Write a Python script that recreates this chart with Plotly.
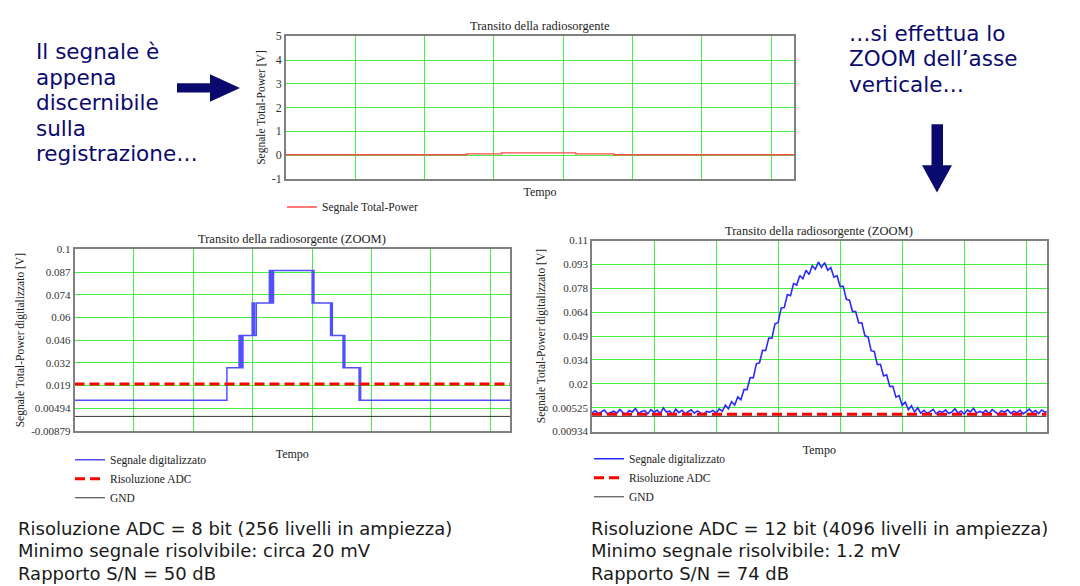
import plotly.graph_objects as go

W, H = 1080, 586


def px(x):
    return x / W


def py(y):
    return 1 - y / H


# ---------------- data ----------------
# top chart: raw total-power record (V) versus time (grid units)
top_x = [0, 2.61, 3.11, 4.18, 4.73, 7.33]
top_y = [0.01, 0.05, 0.09, 0.05, 0.01, 0.01]
top_ticks = [-1, 0, 1, 2, 3, 4, 5]
top_tick_text = ["-1", "0", "1", "2", "3", "4", "5"]

# bottom-left: 8-bit digitised signal (quantisation levels, V)
adc8_levels = [0.0098, 0.0294, 0.0490, 0.0686, 0.0882]
bl_x = [0, 2.565, 2.77, 2.785, 2.80, 2.815, 2.835, 2.99, 3.00, 3.015, 3.03, 3.06,
        3.28, 3.29, 3.31, 3.33, 3.35, 4.00, 4.015, 4.03, 4.31, 4.325, 4.34,
        4.52, 4.535, 4.55, 4.79, 4.80, 4.815, 7.33]
bl_level = [0, 1, 2, 1, 2, 1, 2, 3, 2, 3, 2, 3,
            4, 3, 4, 3, 4, 3, 4, 3, 2, 3, 2,
            1, 2, 1, 0, 1, 0, 0]
adc8_res = 0.0196
bl_tick_vals = [-0.00879, 0.00494, 0.01867, 0.0324, 0.04613, 0.05986, 0.07359, 0.08732, 0.10105]
bl_tick_text = ["-0.00879", "0.00494", "0.019", "0.032", "0.046", "0.06", "0.074", "0.087", "0.1"]

# bottom-right: 12-bit digitised signal (mV), one sample every 0.05 grid units
br_mv = [
    2.1, 3.4, 1.6, 2.8, 3.9, 1.4, 2.5, 3.1, 1.9, 4.2, 2.2, 1.3, 3.6, 2.7, 4.8, 1.8, 2.9, 3.5, 1.5, 4.1,
    2.4, 3.8, 1.7, 5.1, 2.6, 3.2, 1.2, 4.4, 2.3, 3.7, 1.6, 2.9, 4.0, 1.9, 3.3, 2.1, 1.4, 3.0, 2.5, 3.6,
    1.9, 4.6, 3.1, 6.8, 4.6, 8.9, 6.9, 11.9, 10.1, 16.4, 16.3, 23.7, 23.5, 32.1, 32.7, 40.3, 40.2, 47.8,
    47.7, 56.5, 57.2, 66.2, 66.5, 74.4, 73.7, 81.1, 80.2, 86.1, 84.0, 89.2, 86.7, 92.0, 89.8, 94.3,
    90.9, 93.9, 89.3, 90.8, 85.0, 85.9, 79.4, 79.5, 71.5, 71.0, 64.0, 64.0, 57.0, 57.1, 49.2, 48.5,
    40.1, 39.6, 31.6, 31.8, 24.7, 25.4, 18.2, 18.3, 11.7, 12.7, 6.8, 8.6, 4.1, 6.5, 2.6, 5.2, 1.9,
    3.7, 1.8, 2.9, 4.3, 1.5, 3.1, 2.4, 3.9, 1.7, 2.6, 4.6, 2.0, 3.3, 1.4, 3.8, 2.7, 4.9, 1.9, 3.0, 2.2,
    3.6, 1.6, 4.1, 2.8, 1.3, 3.4, 2.5, 4.0, 1.8, 3.2, 2.1, 3.7, 1.5, 2.9, 4.4, 2.3, 3.5, 1.7, 3.9, 2.6, 3.0,
]
br_step = 0.05
adc12_res = 0.0012
br_tick_vals = [-0.00934, 0.00525, 0.01984, 0.03443, 0.04902, 0.06361, 0.0782, 0.09279, 0.10738]
br_tick_text = ["0.00934", "0.00525", "0.02", "0.034", "0.049", "0.064", "0.078", "0.093", "0.11"]

gnd = 0.0
x_range = [0, 7.33]

left_text = ["Il segnale è", "appena", "discernibile", "sulla", "registrazione…"]
right_text = ["…si effettua lo", "ZOOM dell’asse", "verticale…"]
bottom_left = ["Risoluzione ADC = 8 bit (256 livelli in ampiezza)",
               "Minimo segnale risolvibile: circa 20 mV",
               "Rapporto S/N = 50 dB"]
bottom_right = ["Risoluzione ADC = 12 bit (4096 livelli in ampiezza)",
                "Minimo segnale risolvibile: 1.2 mV",
                "Rapporto S/N = 74 dB"]

# ---------------- figure ----------------
SERIF = "Liberation Serif"
GRID = "#44ee44"
BORDER = "#808080"
NAVY = "#0a0a6e"

fig = go.Figure()

# top chart
fig.add_trace(go.Scatter(x=top_x, y=top_y, mode="lines", line_shape="hv",
                         line=dict(color="#ff4a4a", width=1.4),
                         name="Segnale Total-Power", xaxis="x", yaxis="y", legend="legend"))

# bottom-left chart
bl_y = [adc8_levels[i] for i in bl_level]
fig.add_trace(go.Scatter(x=bl_x, y=bl_y, mode="lines", line_shape="hv",
                         line=dict(color="#5050ff", width=1.5),
                         name="Segnale digitalizzato", xaxis="x2", yaxis="y2", legend="legend2"))
fig.add_trace(go.Scatter(x=x_range, y=[adc8_res, adc8_res], mode="lines",
                         line=dict(color="#ff0000", width=3, dash="10px,5px"),
                         name="Risoluzione ADC", xaxis="x2", yaxis="y2", legend="legend2"))
fig.add_trace(go.Scatter(x=x_range, y=[gnd, gnd], mode="lines",
                         line=dict(color="#333333", width=1),
                         name="GND", xaxis="x2", yaxis="y2", legend="legend2"))

# bottom-right chart
br_x = [i * br_step for i in range(len(br_mv))]
br_y = [v / 1000 for v in br_mv]
fig.add_trace(go.Scatter(x=br_x, y=br_y, mode="lines",
                         line=dict(color="#2a2aff", width=1.6),
                         name="Segnale digitalizzato", xaxis="x3", yaxis="y3", legend="legend3"))
fig.add_trace(go.Scatter(x=x_range, y=[adc12_res, adc12_res], mode="lines",
                         line=dict(color="#ff0000", width=3, dash="10px,5px"),
                         name="Risoluzione ADC", xaxis="x3", yaxis="y3", legend="legend3"))
fig.add_trace(go.Scatter(x=x_range, y=[gnd, gnd], mode="lines",
                         line=dict(color="#333333", width=1),
                         name="GND", xaxis="x3", yaxis="y3", legend="legend3"))


def xax(domain, standoff):
    return dict(domain=domain, range=x_range, dtick=1, tick0=0, showticklabels=False,
                ticks="", showgrid=True, gridcolor=GRID, gridwidth=1.3, zeroline=False,
                showline=True, mirror=True, linecolor=BORDER, linewidth=1.5,
                title=dict(text="Tempo", font=dict(family=SERIF, size=12, color="#222"),
                           standoff=standoff))


def yax(domain, anchor, rng, vals, text, title, tsize):
    return dict(domain=domain, anchor=anchor, range=rng, tickmode="array", tickvals=vals,
                ticktext=text, ticks="", showgrid=True, gridcolor=GRID, gridwidth=1.3,
                zeroline=False, showline=True, mirror=True, linecolor=BORDER, linewidth=1.5,
                tickfont=dict(family=SERIF, size=tsize, color="#333"),
                title=dict(text=title, font=dict(family=SERIF, size=11.5, color="#222"), standoff=4))


top_dom_x = [px(286), px(794)]
top_dom_y = [py(176), py(30)]
bl_dom_x = [px(74.5), px(510)]
bl_dom_y = [py(434.3), py(248.3)]
br_dom_x = [px(592), px(1046.7)]
br_dom_y = [py(435), py(239.3)]

leg_common = dict(bgcolor="rgba(0,0,0,0)", font=dict(family=SERIF, size=11.5, color="#222"),
                  xanchor="left", yanchor="top", tracegroupgap=0, itemwidth=30)

annotations = []
# chart titles
for txt, xx, yy in [("Transito della radiosorgente", 540, 19),
                    ("Transito della radiosorgente (ZOOM)", 292, 238),
                    ("Transito della radiosorgente (ZOOM)", 819, 229)]:
    annotations.append(dict(text=txt, x=px(xx), y=py(yy), xref="paper", yref="paper",
                            xanchor="center", yanchor="middle", showarrow=False,
                            font=dict(family=SERIF, size=12.5, color="#222")))
# navy commentary
for i, t in enumerate(left_text):
    annotations.append(dict(text=t, x=px(34), y=py(46 + 26 * i), xref="paper", yref="paper",
                            xanchor="left", yanchor="middle", showarrow=False,
                            font=dict(family="DejaVu Sans", size=21.5, color=NAVY)))
for i, t in enumerate(right_text):
    annotations.append(dict(text=t, x=px(847), y=py(27 + 26 * i), xref="paper", yref="paper",
                            xanchor="left", yanchor="middle", showarrow=False,
                            font=dict(family="DejaVu Sans", size=21.5, color=NAVY)))
# bottom notes
for i, t in enumerate(bottom_left):
    annotations.append(dict(text=t, x=px(16), y=py(534 + 23 * i), xref="paper", yref="paper",
                            xanchor="left", yanchor="middle", showarrow=False,
                            font=dict(family="DejaVu Sans", size=18, color="#1a1a1a")))
for i, t in enumerate(bottom_right):
    annotations.append(dict(text=t, x=px(589), y=py(534 + 23 * i), xref="paper", yref="paper",
                            xanchor="left", yanchor="middle", showarrow=False,
                            font=dict(family="DejaVu Sans", size=18, color="#1a1a1a")))


def poly(points):
    d = "M " + " L ".join(f"{px(a):.5f},{py(b):.5f}" for a, b in points) + " Z"
    return dict(type="path", path=d, xref="paper", yref="paper",
                fillcolor=NAVY, line=dict(width=0))


shapes = [
    poly([(177, 78), (210, 78), (210, 69), (240, 83), (210, 97), (210, 87.5), (177, 87.5)]),
    poly([(931.5, 120), (943, 120), (943, 162), (952, 162), (937, 190), (922, 162), (931.5, 162)]),
]

fig.update_layout(
    width=W, height=H, margin=dict(l=0, r=0, t=0, b=0),
    paper_bgcolor="white", plot_bgcolor="white",
    xaxis=xax(top_dom_x, 8),
    yaxis=yax(top_dom_y, "x", [-1, 5], top_ticks, top_tick_text, "Segnale Total-Power [V]", 12),
    xaxis2=xax(bl_dom_x, 18),
    yaxis2=yax(bl_dom_y, "x2", [bl_tick_vals[0], bl_tick_vals[-1]], bl_tick_vals, bl_tick_text,
               "Segnale Total-Power digitalizzato [V]", 11),
    xaxis3=xax(br_dom_x, 13),
    yaxis3=yax(br_dom_y, "x3", [br_tick_vals[0], br_tick_vals[-1]], br_tick_vals, br_tick_text,
               "Segnale Total-Power digitalizzato [V]", 11),
    legend=dict(x=px(282), y=py(190), **leg_common),
    legend2=dict(x=px(70), y=py(449), **leg_common),
    legend3=dict(x=px(589), y=py(448), **leg_common),
    annotations=annotations,
    shapes=shapes,
    showlegend=True,
)
fig.update_layout(xaxis2_anchor="y2", xaxis3_anchor="y3", xaxis_anchor="y")

fig.write_html("out.html", config={"displayModeBar": False},
               post_script="document.body.style.margin='0';document.body.style.overflow='hidden';")
